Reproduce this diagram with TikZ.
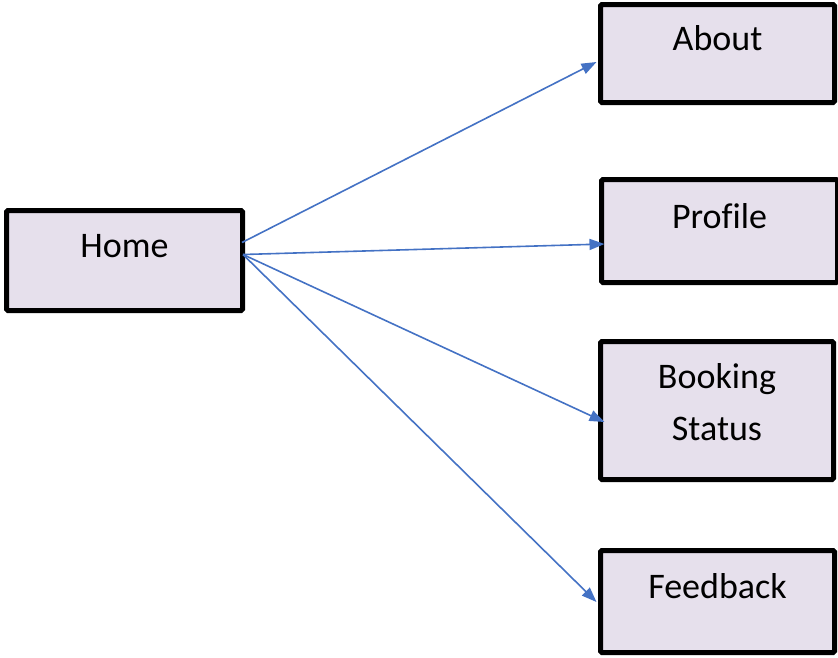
\documentclass[tikz,border=0pt]{standalone}
\usepackage{fontspec}
\setmainfont{Carlito}[Ligatures=CommonOff]
\usetikzlibrary{arrows.meta,calc}
\definecolor{pagefill}{HTML}{E6E0EC}
\definecolor{linkblue}{HTML}{4472C4}

\begin{document}
\begin{tikzpicture}[x=1pt,y=-1pt,>={Triangle[length=15pt,width=11pt]},
  page/.style={draw,line width=5pt,fill=pagefill,rounded corners=1.5pt,inner sep=0pt,
    font=\fontsize{36}{52}\selectfont,text height=20pt,text depth=26pt},
  link/.style={->,draw=linkblue,line width=1.6pt}]
  \useasboundingbox (0,0) rectangle (838,657);

  % Home page
  \node[page,minimum width=236pt,minimum height=100pt] (home) at (124.5,260.5) {Home};

  % Pages reachable from home
  \node[page,minimum width=234pt,minimum height=98pt]  (about)    at (717.5,53.5)  {About};
  \node[page,minimum width=236pt,minimum height=103pt] (profile)  at (719.5,231)   {Profile};
  \node[page,minimum width=233pt,minimum height=138pt,align=center,
        text height=70pt,text depth=11pt]               (booking)  at (717,410.5)   {Booking\\Status};
  \node[page,minimum width=234pt,minimum height=102pt] (feedback) at (717.5,601.5) {Feedback};

  % Start points on home
  \coordinate (homeout1) at ($(home.east)+(-3,-18)$);
  \coordinate (homeout2) at ($(home.east)+(-2,-6)$);

  \draw[link] (homeout1) -- ($(about.west)+(-1.5,8.5)$);
  \draw[link] (homeout2) -- ($(profile.west)+(5.5,13)$);
  \draw[link] (homeout2) -- ($(booking.west)+(6.5,11.5)$);
  \draw[link] (homeout2) -- ($(feedback.west)+(-1.5,0.5)$);

\end{tikzpicture}
\end{document}
